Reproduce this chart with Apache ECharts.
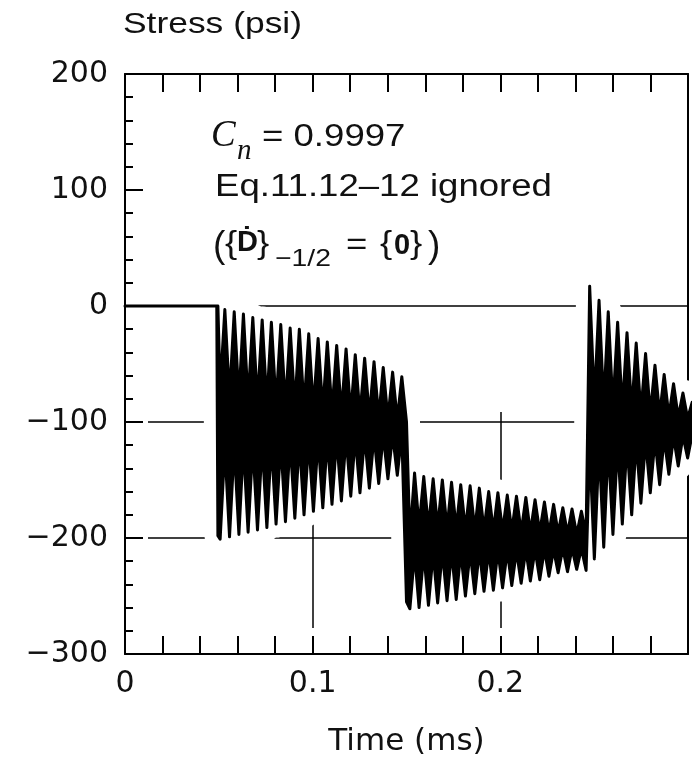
<!DOCTYPE html>
<html>
<head>
<meta charset="utf-8">
<title>Stress (psi) vs Time (ms)</title>
<script src="https://cdn.jsdelivr.net/npm/echarts@6/dist/echarts.min.js"></script>
<style>
    html,body{margin:0;padding:0;background:#ffffff;}
    #chart{width:692px;height:762px;}
</style>
</head>
<body>
<div id="chart"></div>
<script>
// axis settings
var xMin = 0, xMax = 0.3, xStep = 0.1;
var yMin = -300, yMax = 200, yStep = 100;

// envelope of the stress trace (time ms, upper psi, lower psi)
// before the load and the drop at 0.05 ms
var flatTime  = [0, 0.0489, 0.0495];
var flatUpper = [0, 0, 0];
var flatLower = [0, 0, -198];

// 0.05 - 0.15 ms : trough, peak, trough, peak ...
var r1Time = [0.0507, 0.0532, 0.0557, 0.0582, 0.0607, 0.0631, 0.0656, 0.0681, 0.0706, 0.0731,
              0.0756, 0.0780, 0.0805, 0.0830, 0.0855, 0.0880, 0.0905, 0.0929, 0.0954, 0.0979,
              0.1004, 0.1029, 0.1054, 0.1078, 0.1103, 0.1128, 0.1153, 0.1178, 0.1203, 0.1227,
              0.1252, 0.1277, 0.1302, 0.1327, 0.1352, 0.1376, 0.1401, 0.1426, 0.1451, 0.1475];
var r1Upper = [-72, -3, -78, -5, -80, -7, -82, -10, -83, -12, -84, -14, -85, -16, -86, -19, -87, -20, -88, -24,
               -89, -28, -90, -31, -91, -34, -92, -37, -93, -42, -94, -45, -95, -48, -96, -53, -97, -57, -98, -61];
var r1Lower = [-201, -122, -199, -121, -197, -120, -195, -120, -193, -119, -191, -118, -188, -118, -186, -117, -183, -116, -180, -116,
               -177, -115, -174, -115, -171, -114, -168, -113, -164, -113, -161, -112, -157, -112, -153, -111, -149, -111, -146, -110];

// drop at 0.15 ms
var d2Time = [0.1500], d2Upper = [-100], d2Lower = [-255];

// 0.15 - 0.246 ms : trough, peak ...
var r2Time = [0.1518, 0.1543, 0.1567, 0.1592, 0.1617, 0.1642, 0.1666, 0.1691, 0.1716, 0.1740,
              0.1765, 0.1789, 0.1814, 0.1839, 0.1864, 0.1888, 0.1913, 0.1938, 0.1963, 0.1987,
              0.2012, 0.2037, 0.2061, 0.2086, 0.2111, 0.2136, 0.2160, 0.2185, 0.2210, 0.2235,
              0.2259, 0.2284, 0.2308, 0.2333, 0.2358, 0.2382, 0.2407, 0.2432, 0.2457];
var r2Upper = [-200, -144, -190, -147, -191, -149, -191, -150, -192, -152, -192, -154, -193, -155, -193, -157, -193, -160, -194, -161,
               -194, -163, -194, -164, -195, -165, -195, -167, -195, -169, -196, -171, -196, -174, -196, -175, -197, -177, -197];
var r2Lower = [-261, -213, -260, -213, -258, -213, -256, -212, -254, -212, -253, -212, -250, -212, -248, -211, -246, -211, -245, -211,
               -243, -211, -241, -211, -239, -210, -237, -210, -236, -210, -233, -210, -230, -209, -229, -209, -227, -209, -228];

// 0.246 ms onward : peak, trough ...
var r3Time = [0.2476, 0.2501, 0.2526, 0.2551, 0.2575, 0.2600, 0.2625, 0.2650, 0.2675, 0.2700, 0.2724,
              0.2749, 0.2774, 0.2799, 0.2824, 0.2849, 0.2873, 0.2898, 0.2923, 0.2948, 0.2973, 0.2998, 0.3022];
var r3Upper = [17, -83, 5, -85, -5, -87, -14, -89, -23, -90, -32,
               -92, -41, -93, -51, -94, -59, -95, -67, -96, -75, -97, -83];
var r3Lower = [-122, -218, -121, -208, -120, -197, -119, -188, -118, -180, -117,
               -170, -116, -161, -115, -154, -114, -145, -113, -138, -112, -131, -111];

var sigTime  = flatTime.concat(r1Time, d2Time, r2Time, r3Time);
var sigUpper = flatUpper.concat(r1Upper, d2Upper, r2Upper, r3Upper);
var sigLower = flatLower.concat(r1Lower, d2Lower, r2Lower, r3Lower);

var FONT = '"Liberation Sans", Arial, Helvetica, sans-serif';
var WIDE = '"DejaVu Sans", "Liberation Sans", sans-serif';
var SERIF = '"Liberation Serif", "Times New Roman", serif';
var SX = 1.18; // the scanned lettering is a bit stretched sideways

var chart = echarts.init(document.getElementById('chart'));

function bandPolygon(api, style) {
    var pts = [];
    for (var i = 0; i < sigTime.length; i++) pts.push(api.coord([sigTime[i], sigUpper[i]]));
    for (var j = sigTime.length - 1; j >= 0; j--) pts.push(api.coord([sigTime[j], sigLower[j]]));
    return {type: 'polygon', shape: {points: pts}, style: style};
}

function yFmt(v) { return v < 0 ? '\u2212' + Math.abs(v) : String(v); }

// a piece of annotation text
function txt(s, x, y, font, sx) {
    return {type: 'text', x: x, y: y, scaleX: sx === undefined ? SX : sx, z: 10,
            style: {text: s, font: font, fill: '#111', verticalAlign: 'middle'}};
}

var hidden = {show: false};
var frameLine = {show: true, onZero: false, lineStyle: {color: '#000', width: 2}};

var option = {
    backgroundColor: '#ffffff',
    animation: false,
    grid: {left: 125, right: 4, top: 74, bottom: 107},
    xAxis: [
        { // grid lines only (masked by the trace)
            type: 'value', min: xMin, max: xMax, interval: xStep, position: 'bottom', z: 0,
            axisLine: {show: false, onZero: false}, axisTick: hidden, axisLabel: hidden,
            splitLine: {show: true, showMinLine: false, showMaxLine: false,
                lineStyle: {color: '#000', width: 1.5, type: [216, 400], dashOffset: 278}}
        },
        { // bottom frame
            type: 'value', min: xMin, max: xMax, interval: xStep, position: 'bottom', z: 5,
            axisLine: frameLine,
            axisTick: {show: true, inside: true, length: 18, lineStyle: {color: '#000', width: 2}},
            minorTick: {show: true, splitNumber: 5, length: 18, lineStyle: {color: '#000', width: 2}},
            axisLabel: {show: true, margin: 15, fontSize: 30, color: '#111', fontFamily: WIDE, showMaxLabel: false},
            splitLine: hidden,
            name: 'Time (ms)', nameLocation: 'middle', nameGap: 72,
            nameTextStyle: {fontSize: 31, color: '#111', fontFamily: WIDE}
        },
        { // top frame
            type: 'value', min: xMin, max: xMax, interval: xStep, position: 'top', z: 5,
            axisLine: frameLine,
            axisTick: {show: true, inside: true, length: 18, lineStyle: {color: '#000', width: 2}},
            minorTick: {show: true, splitNumber: 5, length: 18, lineStyle: {color: '#000', width: 2}},
            axisLabel: hidden, splitLine: hidden
        }
    ],
    yAxis: [
        { // grid lines only
            type: 'value', min: yMin, max: yMax, interval: yStep, position: 'left', z: 0,
            axisLine: {show: false, onZero: false}, axisTick: hidden, axisLabel: hidden,
            splitLine: {show: true, showMinLine: false, showMaxLine: false,
                lineStyle: {color: ['#000', '#000', '#000', 'rgba(0,0,0,0)'], width: 1.5, type: [700, 23], dashOffset: 700}}
        },
        { // right edge, broken by the trace
            type: 'value', min: yMin, max: yMax, interval: yStep, position: 'right', z: 0,
            axisLine: frameLine, axisTick: hidden, axisLabel: hidden, splitLine: hidden
        },
        { // left frame
            type: 'value', min: yMin, max: yMax, interval: yStep, position: 'left', z: 5,
            axisLine: frameLine,
            axisTick: {show: true, inside: true, length: 18, lineStyle: {color: '#000', width: 2}},
            minorTick: {show: true, splitNumber: 5, length: 8, lineStyle: {color: '#000', width: 2}},
            axisLabel: {show: true, margin: 17, fontSize: 30, color: '#111', fontFamily: WIDE, formatter: yFmt},
            splitLine: hidden
        }
    ],
    graphic: [
        txt('Stress (psi)', 123, 25, '30px ' + FONT),
        txt('C', 211, 136, 'italic 37px ' + SERIF, 1),
        txt('n', 237, 151, 'italic 29px ' + SERIF, 1),
        txt('= 0.9997', 262, 137, '31px ' + FONT),
        txt('Eq.11.12\u201312 ignored', 215, 187, '31px ' + FONT),
        txt('(', 213, 247, '37px ' + FONT, 1),
        txt('{', 225, 244, '31px ' + FONT),
        txt('\u1E0A', 237, 243, 'bold 29px ' + FONT, 1),
        txt('}', 257, 244, '31px ' + FONT),
        txt('\u22121/2', 275, 259, '24px ' + FONT),
        txt('=', 346, 245, '31px ' + FONT),
        txt('{', 380, 244, '31px ' + FONT),
        txt('0', 394, 246, 'bold 29px ' + FONT, 1),
        txt('}', 410, 244, '31px ' + FONT),
        txt(')', 428, 247, '37px ' + FONT, 1)
    ],
    series: [
        { // white halo that breaks the grid lines near the trace
            type: 'custom', xAxisIndex: 0, yAxisIndex: 0, z: 1, silent: true,
            data: [[0.15, -100]],
            renderItem: function (params, api) {
                return bandPolygon(api, {fill: '#fff', stroke: '#fff', lineWidth: 27, lineJoin: 'round'});
            }
        },
        {
            name: 'Stress', type: 'custom', xAxisIndex: 0, yAxisIndex: 0, z: 2, silent: true,
            data: [[0.15, -100]],
            renderItem: function (params, api) {
                return bandPolygon(api, {fill: '#000', stroke: '#000', lineWidth: 3, lineJoin: 'round'});
            }
        }
    ]
};

chart.setOption(option);
</script>
</body>
</html>
